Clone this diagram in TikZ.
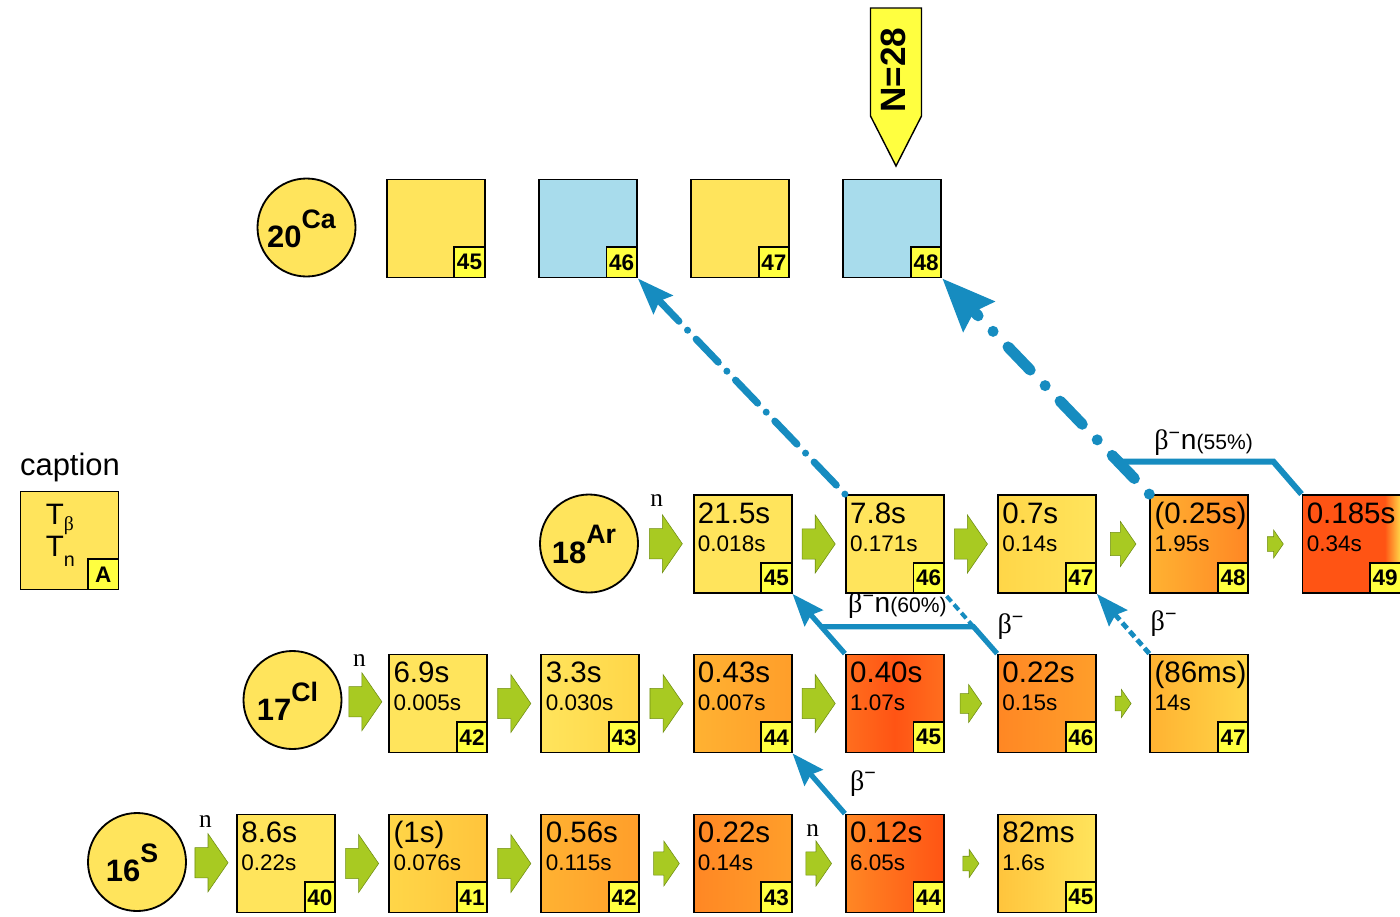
\documentclass[tikz,border=0pt]{standalone}
\usepackage{fontspec}
\setmainfont{Liberation Sans}
\newfontfamily\serifn{Liberation Serif}
\usetikzlibrary{arrows.meta,calc,positioning}
\definecolor{nucY}{RGB}{255,228,92}
\definecolor{numY}{RGB}{255,255,64}
\definecolor{caB}{RGB}{168,220,236}
\definecolor{decB}{RGB}{22,140,192}
\definecolor{grnF}{RGB}{168,202,34}
\definecolor{grnD}{RGB}{112,142,20}
\definecolor{y0}{RGB}{255,228,92}
\definecolor{y1}{RGB}{255,214,72}
\definecolor{y2}{RGB}{255,196,60}
\definecolor{o1}{RGB}{255,178,50}
\definecolor{o2}{RGB}{255,158,42}
\definecolor{o3}{RGB}{255,135,36}
\definecolor{r1}{RGB}{255,110,30}
\definecolor{r2}{RGB}{255,84,20}
\pgfdeclarehorizontalshading{ar49sh}{100bp}{color(0bp)=(r2); color(25bp)=(r2); color(67bp)=(r2); color(75bp)=(y1); color(100bp)=(y1)}
\newcommand{\bdec}{{\serifn β}\textsuperscript{−}}
\tikzset{nuc/.style={draw, line width=1.3pt, minimum size=24.5mm, inner sep=0pt},
  anum/.style={draw, line width=1.3pt, fill=numY, minimum size=7.6mm, inner sep=0pt,
    font=\fontsize{16}{16}\selectfont\bfseries},
  elem/.style={circle, draw, line width=1.3pt, fill=nucY, minimum size=24.5mm, inner sep=0pt},
  etext/.style={inner sep=0pt, font=\fontsize{22}{22}\selectfont\bfseries},
  tbeta/.style={anchor=base west, inner sep=0pt, font=\fontsize{21}{21}\selectfont},
  tneut/.style={anchor=base west, inner sep=0pt, font=\fontsize{16}{16}\selectfont},
  nlab/.style={inner sep=0pt, font=\serifn\fontsize{18}{18}\selectfont},
  blab/.style={inner sep=0pt, font=\fontsize{20}{20}\selectfont},
  dline/.style={draw=decB, line width=1.3mm},
  dtip/.style={-{Stealth[length=8mm, width=6mm, inset=1mm]}},
  fwd/.pic={\draw[fill=grnF, draw=grnD, line width=0.4pt] (-0.285,-0.26) -- (-0.06,-0.26) -- (-0.06,-0.5)
    -- (0.285,0) -- (-0.06,0.5) -- (-0.06,0.26) -- (-0.285,0.26) -- cycle;}}

\begin{document}
\begin{tikzpicture}[x=0.25mm, y=-0.25mm]
  \fill[white] (0,0) rectangle (1400,916);
  \useasboundingbox (0,0) rectangle (1400,916);
  % element circles
  \foreach \n/\z/\e/\x/\y in {Sc/16/S/137/862, Clc/17/Cl/292.5/700, Arc/18/Ar/589/543.5, Cac/20/Ca/306.5/227.5}{
    \node[elem] (\n) at (\x,\y) {};
    \node[etext] (\n t) at ($(\n)+(-5,1)$) {\z\raisebox{4.8mm}{\fontsize{19}{19}\selectfont\e}};}
  % nuclide boxes, one row per element
  \foreach \n/\c/\l/\r in {S40/0/y0/y0, S41/1/y1/y2, S42/2/o1/o2, S43/3/o3/o2, S44/4/o3/r2, S45/5/y2/y0}
    \node[nuc, left color=\l, right color=\r] (\n) at (286+152.2*\c, 863.5) {};
  \foreach \n/\c/\l/\r in {Cl42/1/y0/y0, Cl43/2/y0/y1, Cl44/3/o1/o2, Cl46/5/o3/o2, Cl47/6/o1/y1}
    \node[nuc, left color=\l, right color=\r] (\n) at (286+152.2*\c, 703.5) {};
  \node[nuc, left color=r1, right color=r1, middle color=r2] (Cl45) at (286+152.2*4, 703.5) {};
  \foreach \n/\c/\l/\r in {Ar45/3/y0/y0, Ar46/4/y0/y0, Ar47/5/y1/y0, Ar48/6/o1/o3}
    \node[nuc, left color=\l, right color=\r] (\n) at (286+152.2*\c, 544) {};
  \node[nuc, shade, shading=ar49sh] (Ar49) at (286+152.2*7, 544) {};
  \foreach \n/\c/\f/\a in {Ca45/1/nucY/45, Ca46/2/caB/46, Ca47/3/nucY/47, Ca48/4/caB/48}{
    \node[nuc, fill=\f] (\n) at (283.5+152.2*\c, 228.5) {};
    \node[anum, anchor=south east] (\n a) at (\n.south east) {\a};}
  % half-lives and mass numbers
  \foreach \n/\ta/\tb/\a in {S40/8.6s/0.22s/40, S41/{(1s)}/0.076s/41, S42/0.56s/0.115s/42,
      S43/0.22s/0.14s/43, S44/0.12s/6.05s/44, S45/82ms/1.6s/45,
      Cl42/6.9s/0.005s/42, Cl43/3.3s/0.030s/43, Cl44/0.43s/0.007s/44,
      Cl45/0.40s/1.07s/45, Cl46/0.22s/0.15s/46, Cl47/{(86ms)}/14s/47,
      Ar45/21.5s/0.018s/45, Ar46/7.8s/0.171s/46, Ar47/0.7s/0.14s/47,
      Ar48/{(0.25s)}/1.95s/48, Ar49/0.185s/0.34s/49}{
    \node[tbeta] (\n b) at ($(\n.north west)+(5,29)$) {\ta};
    \node[tneut] (\n n) at ($(\n.north west)+(5,57)$) {\tb};
    \node[anum, anchor=south east] (\n a) at (\n.south east) {\a};}
  % neutron captures
  \foreach \a/\b/\s in {Sc/S40/58, S40/S41/58, S41/S42/58, S42/S43/45, S43/S44/45, S44/S45/28,
      Clc/Cl42/58, Cl42/Cl43/58, Cl43/Cl44/58, Cl44/Cl45/58, Cl45/Cl46/38, Cl46/Cl47/28,
      Arc/Ar45/58, Ar45/Ar46/58, Ar46/Ar47/58, Ar47/Ar48/45, Ar48/Ar49/28}
    \pic[scale=\s] at ($(\a.east)!0.5!(\b.west)$) {fwd};
  \node[nlab] (nS) at ($(Sc.east)!0.5!(S40.west)+(-6,-41)$) {n};
  \node[nlab] (nCl) at ($(Clc.east)!0.5!(Cl42.west)+(-6,-41)$) {n};
  \node[nlab] (nAr) at ($(Arc.east)!0.5!(Ar45.west)+(-9,-43)$) {n};
  \node[nlab] (nS44) at ($(S43.east)!0.5!(S44.west)+(-6,-33)$) {n};
  % beta decays
  \draw[decB, line width=1.75mm, line cap=round, dash pattern=on 0mm off 3.1mm on 8mm off 3.1mm,
    -{Stealth[length=9mm, width=6.5mm, inset=1.2mm]}] (Ar46.north west) -- (Ca46.south east);
  \draw[decB, line width=2.75mm, line cap=round, dash pattern=on 0mm off 5.4mm on 8mm off 5.4mm,
    -{Stealth[length=13mm, width=10.5mm, inset=1.5mm]}] (Ar48.north west) -- (Ca48.south east);
  \coordinate (j55) at ($(Ar48.north west)!0.15!(Ca48.south east)$);
  \coordinate (e55) at ($(Ar49.north west)+(-28,0)$);
  \draw[dline, line width=1.5mm] (Ar49.north west) -- (e55 |- j55) -- (j55)
    node[blab, pos=0.45, anchor=base, yshift=3mm] (l55) {\bdec n\fontsize{15}{15}\selectfont(55\%)};
  \draw[dline, dtip] (Cl45.north west) -- (Ar45.south east);
  \coordinate (j60) at ($(Cl45.north west)!0.45!(Ar45.south east)$);
  \coordinate (b60) at ($(Cl46.north west)!0.45!(Ar46.south east)$);
  \draw[dline] (Cl46.north west) -- (b60) -- (j60)
    node[blab, pos=0.5, anchor=base, yshift=3.5mm] (l60) {\bdec n\fontsize{15}{15}\selectfont(60\%)};
  \draw[dline, line width=1mm, dash pattern=on 1.8mm off 1mm] (b60) -- (Ar46.south east)
    node[blab, pos=0, anchor=west, xshift=5.5mm] (l46) {\bdec};
  \draw[dline, line width=1.2mm, dash pattern=on 1.8mm off 1mm, dtip] (Cl47.north west) -- (Ar47.south east)
    node[blab, pos=0.5, anchor=west, xshift=6.3mm] (l47) {\bdec};
  \draw[dline, dtip] (S44.north west) -- (Cl44.south east)
    node[blab, pos=0.5, anchor=west, xshift=7.2mm] (l44) {\bdec};
  % N=28 marker
  \draw[line width=1pt, fill=numY] (870.5,8) -- (921.5,8) -- (921.5,116) -- (896,166) -- (870.5,116) -- cycle;
  \node[rotate=90, inner sep=0pt, font=\fontsize{25}{25}\selectfont\bfseries] (N28) at (893,70) {N=28};
  % caption
  \node[inner sep=0pt, font=\fontsize{22}{22}\selectfont] (cap) at (70,467) {caption};
  \node[nuc, fill=nucY] (key) at (69.5,540.5) {};
  \node[anum, anchor=south east] (keya) at (key.south east) {A};
  \node[anchor=base west, inner sep=0pt, font=\fontsize{21}{21}\selectfont] (keyb) at ($(key.north west)+(26,34)$)
    {T\raisebox{-1.5mm}{\serifn\fontsize{14}{14}\selectfont β}};
  \node[anchor=base west, inner sep=0pt, font=\fontsize{21}{21}\selectfont] (keyn) at ($(key.north west)+(26,66)$)
    {T\raisebox{-2.6mm}{\fontsize{14}{14}\selectfont n}};
\end{tikzpicture}
\end{document}
